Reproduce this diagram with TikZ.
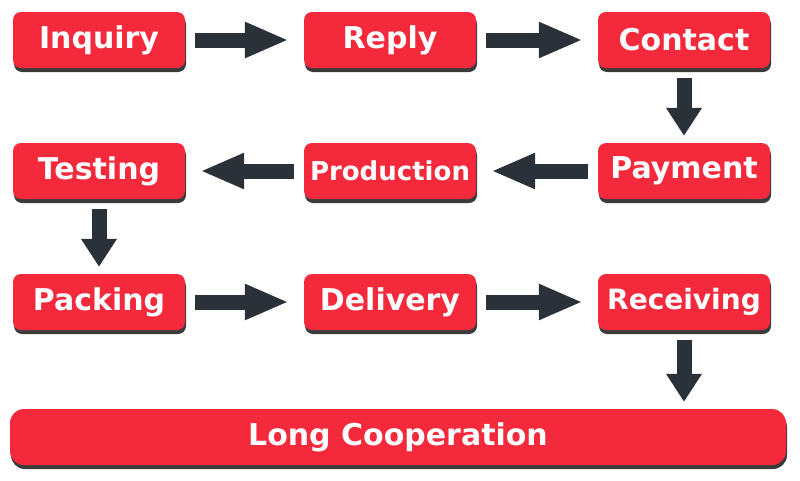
\documentclass[tikz,border=0pt]{standalone}
\usepackage{fontspec}
\setmainfont{DejaVu Sans}
\usetikzlibrary{arrows.meta,shadows}
\definecolor{boxred}{HTML}{F42A3C}
\definecolor{arrowgray}{HTML}{2A3138}

\begin{document}
\begin{tikzpicture}[x=1pt,y=-1pt]
        \tikzstyle{every node}=[font=\bfseries\fontsize{30}{32}\selectfont, text=white]
        \tikzstyle{stepbox}=[fill=boxred, rounded corners=8pt, minimum width=172pt, minimum height=56pt, inner sep=0pt,
            drop shadow={shadow xshift=1pt, shadow yshift=-4pt, fill=black!85, opacity=0.9}]
        \tikzstyle{hflow}=[-{Triangle[length=44pt, width=33pt]}, line width=15pt, draw=arrowgray, shorten <=10pt, shorten >=15pt]
        \tikzstyle{vflow}=[-{Triangle[length=28pt, width=34pt]}, line width=15pt, draw=arrowgray, shorten <=10pt, shorten >=7pt]
        \useasboundingbox (0,0) rectangle (800,480);
        % first row
        \node[stepbox] (inquiry) at (99,40) {Inquiry};
        \node[stepbox] (reply) at (390,40) {Reply};
        \node[stepbox] (contact) at (684,40) {Contact};
        % second row
        \node[stepbox] (testing) at (99,171) {Testing};
        \node[stepbox, font=\bfseries\fontsize{26}{28}\selectfont] (production) at (390,171) {Production};
        \node[stepbox] (payment) at (684,171) {Payment};
        % third row
        \node[stepbox] (packing) at (99,302) {Packing};
        \node[stepbox] (delivery) at (390,302) {Delivery};
        \node[stepbox, font=\bfseries\fontsize{28}{30}\selectfont] (receiving) at (684,302) {Receiving};
        % final bar
        \node[stepbox, rounded corners=14pt, minimum width=776pt, minimum height=56pt] (cooperation) at (398,437) {Long Cooperation};
        % arrows
        \draw[hflow] (inquiry) -- (reply);
        \draw[hflow] (reply) -- (contact);
        \draw[vflow] (contact) -- (payment);
        \draw[hflow] (payment) -- (production);
        \draw[hflow] (production) -- (testing);
        \draw[vflow] (testing) -- (packing);
        \draw[hflow] (packing) -- (delivery);
        \draw[hflow] (delivery) -- (receiving);
        \draw[vflow] (receiving) -- (receiving |- cooperation.north);
    \end{tikzpicture}
\end{document}
